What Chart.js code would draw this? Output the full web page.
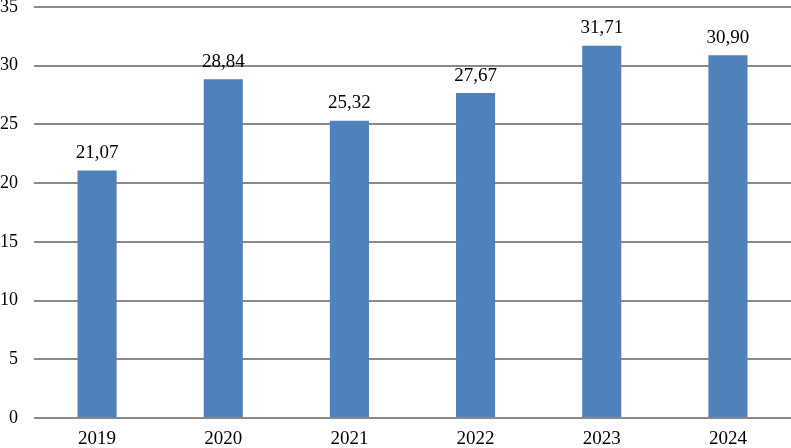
<!DOCTYPE html>
<html>
<head>
<meta charset="utf-8">
<script src="https://cdn.jsdelivr.net/npm/chart.js@4/dist/chart.umd.min.js"></script>
<style>
html,body{margin:0;padding:0;background:#fff;}
#wrap{width:791px;height:448px;position:relative;}
</style>
</head>
<body>
<div id="wrap"><canvas id="c" width="791" height="448"></canvas></div>
<script>
const categories = ["2019", "2020", "2021", "2022", "2023", "2024"];
const values = [21.07, 28.84, 25.32, 27.67, 31.71, 30.90];
const yTicks = [0, 5, 10, 15, 20, 25, 30, 35];

const FONT = '"Liberation Serif", "Times New Roman", serif';

const labelPlugin = {
  id: 'valueLabels',
  afterDatasetsDraw(chart) {
    const ctx = chart.ctx;
    const meta = chart.getDatasetMeta(0);
    ctx.save();
    ctx.font = '19px ' + FONT;
    ctx.fillStyle = '#000';
    ctx.textAlign = 'center';
    ctx.textBaseline = 'bottom';
    meta.data.forEach((bar, i) => {
      const txt = values[i].toFixed(2).replace('.', ',');
      ctx.fillText(txt, bar.x, bar.y - 8);
    });
    ctx.restore();
  }
};

new Chart(document.getElementById('c'), {
  type: 'bar',
  data: {
    labels: categories,
    datasets: [{
      data: values,
      backgroundColor: '#4F81BD',
      borderWidth: 0,
      barPercentage: 0.62,
      categoryPercentage: 0.5
    }]
  },
  options: {
    responsive: false,
    animation: false,
    layout: { padding: { top: 7, right: 0, left: 0, bottom: 0 } },
    plugins: { legend: { display: false }, tooltip: { enabled: false } },
    scales: {
      x: {
        grid: { display: false, drawTicks: false },
        border: { display: false },
        ticks: {
          color: '#000',
          padding: 10,
          font: { family: FONT, size: 19 }
        },
        afterFit(scale) { scale.height = 30; scale.paddingLeft = 0; scale.paddingRight = 0; }
      },
      y: {
        min: 0,
        max: 35,
        afterBuildTicks(scale) { scale.ticks = yTicks.map(v => ({ value: v })); },
        grid: { color: '#8a8a8a', lineWidth: 2, drawTicks: false },
        border: { display: false },
        ticks: {
          color: '#000',
          padding: 16,
          font: { family: FONT, size: 18 }
        },
        afterFit(scale) { scale.width = 34; scale.paddingTop = 0; scale.paddingBottom = 0; }
      }
    }
  },
  plugins: [labelPlugin]
});
</script>
</body>
</html>
